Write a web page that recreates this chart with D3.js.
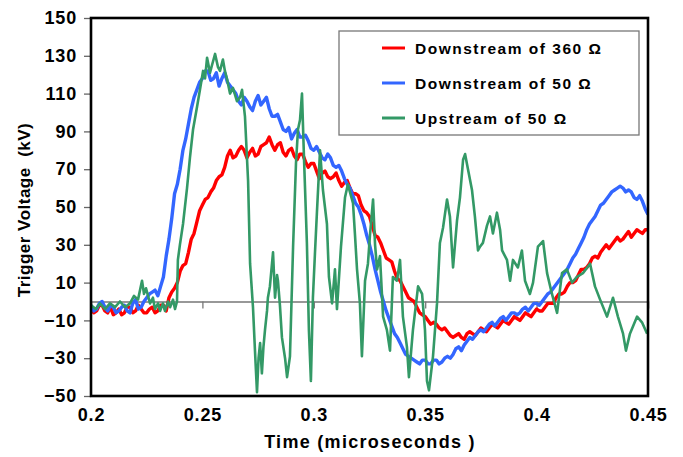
<!DOCTYPE html>
<html><head><meta charset="utf-8">
<script src="https://cdn.jsdelivr.net/npm/d3@7/dist/d3.min.js"></script>
<style>
html,body{margin:0;padding:0;background:#fff;}
text{font-family:Arial,"Liberation Sans",sans-serif;font-weight:bold;fill:#000;}
</style></head><body>
<svg id="c" width="683" height="457"></svg>
<script>
const xTicks = [0.2, 0.25, 0.3, 0.35, 0.4, 0.45];
const xTickLabels = ["0.2", "0.25", "0.3", "0.35", "0.4", "0.45"];
const yTicks = [-50, -30, -10, 10, 30, 50, 70, 90, 110, 130, 150];
const seriesNames = ["Downstream of 360 \u03A9", "Downstream of 50 \u03A9", "Upstream of 50 \u03A9"];
const seriesColors = ["#ff0000", "#3366ff", "#339966"];

const tGrid = [0.2000,0.2025,0.2050,0.2075,0.2100,0.2125,0.2150,0.2175,0.2200,0.2225,
0.2250,0.2275,0.2300,0.2325,0.2350,0.2375,0.2400,0.2425,0.2450,0.2475,
0.2500,0.2525,0.2550,0.2575,0.2600,0.2625,0.2650,0.2675,0.2700,0.2725,
0.2750,0.2775,0.2800,0.2825,0.2850,0.2875,0.2900,0.2925,0.2950,0.2975,
0.3000,0.3025,0.3050,0.3075,0.3100,0.3125,0.3150,0.3175,0.3200,0.3225,
0.3250,0.3275,0.3300,0.3325,0.3350,0.3375,0.3400,0.3425,0.3450,0.3475,
0.3500,0.3525,0.3550,0.3575,0.3600,0.3625,0.3650,0.3675,0.3700,0.3725,
0.3750,0.3775,0.3800,0.3825,0.3850,0.3875,0.3900,0.3925,0.3950,0.3975,
0.4000,0.4025,0.4050,0.4075,0.4100,0.4125,0.4150,0.4175,0.4200,0.4225,
0.4250,0.4275,0.4300,0.4325,0.4350,0.4375,0.4400,0.4425,0.4450,0.4475,0.4500];

// Downstream of 360 ohm: samples on tGrid, and in-between samples
const red360 = [-3,-5,-2,-6,-7,-4,-6,-3,-5,-4,
-6,-3,-5,-2,2,7,16,20,33,42,
51,55,60,66,71,80,77,82,76,81,
78,83,87,80,84,77,81,75,78,71,
73,65,69,65,68,61,64,57,56,48,
45,35,31,23,21,12,8,2,0,-6,
-8,-12,-12,-15,-16,-19,-17,-20,-16,-18,
-14,-16,-12,-14,-10,-12,-8,-10,-6,-8,
-4,-5,-1,-1,4,5,10,11,17,18,
23,23,28,28,32,32,35,34,38,36,38];
const red360Mid = [-6,-2,-5,-3,-6,-7,-3,-6,-2,-6,
-4,-6,-2,-5,5,10,19,26,36,48,
54,58,64,67,77,76,80,80,79,77,
82,84,83,83,79,80,77,78,74,73,
69,68,66,66,64,63,60,57,51,47,
40,34,27,22,16,11,5,1,-3,-7,
-10,-11,-14,-14,-18,-18,-19,-17,-17,-16,
-15,-14,-13,-12,-11,-10,-9,-8,-7,-6,
-5,-3,-1,2,4,8,10,14,17,20,
24,26,30,30,34,33,37,36,37,38];

// Downstream of 50 ohm
const blue50 = [-2,-4,0,-5,-3,-5,-2,-6,1,-3,
2,5,3,13,33,57,70,86,102,112,
118,122,118,114,121,114,110,104,106,101,
109,106,102,98,95,90,86,91,87,85,
80,79,75,76,71,69,62,56,50,41,
30,17,5,-5,-13,-19,-25,-29,-31,-33,
-31,-33,-31,-32,-29,-28,-24,-23,-19,-18,
-15,-14,-11,-11,-8,-8,-6,-6,-3,-3,
-1,0,4,7,11,15,20,25,31,38,
43,48,52,56,59,61,58,58,54,53,46];
const blue50Mid = [-5,-1,-3,-2,-6,-3,-5,-1,-4,0,
4,6,8,24,44,62,80,94,108,116,
122,117,121,118,116,112,106,108,103,106,
104,108,98,99,91,92,89,87,88,81,
82,76,78,72,72,65,60,52,46,35,
24,11,0,-9,-17,-22,-28,-30,-32,-31,
-33,-31,-33,-30,-30,-25,-26,-21,-20,-16,
-16,-12,-13,-9,-10,-6,-7,-4,-5,-1,
-2,2,5,9,13,17,23,28,34,41,
45,51,54,58,60,60,59,55,56,49];

// Upstream of 50 ohm
const greenT = [0.2000,0.2022,0.2040,0.2063,0.2085,0.2108,0.2130,0.2153,0.2175,0.2193,
0.2211,0.2229,0.2238,0.2247,0.2265,0.2278,0.2287,0.2301,0.2310,0.2323,
0.2332,0.2346,0.2355,0.2368,0.2377,0.2386,0.2390,0.2399,0.2413,0.2431,
0.2444,0.2458,0.2476,0.2489,0.2503,0.2512,0.2521,0.2534,0.2543,0.2557,
0.2570,0.2579,0.2592,0.2601,0.2610,0.2624,0.2637,0.2655,0.2669,0.2678,
0.2691,0.2705,0.2714,0.2727,0.2736,0.2745,0.2752,0.2759,0.2767,0.2774,
0.2781,0.2790,0.2794,0.2803,0.2817,0.2826,0.2835,0.2839,0.2848,0.2857,
0.2871,0.2880,0.2893,0.2907,0.2920,0.2929,0.2938,0.2947,0.2956,0.2969,
0.2978,0.2987,0.2996,0.3005,0.3014,0.3028,0.3041,0.3050,0.3059,0.3068,
0.3082,0.3095,0.3104,0.3122,0.3140,0.3153,0.3162,0.3176,0.3185,0.3194,
0.3207,0.3216,0.3230,0.3243,0.3252,0.3266,0.3275,0.3284,0.3297,0.3311,
0.3328,0.3342,0.3355,0.3373,0.3387,0.3400,0.3418,0.3427,0.3445,0.3468,
0.3486,0.3499,0.3508,0.3517,0.3535,0.3553,0.3566,0.3580,0.3598,0.3611,
0.3625,0.3643,0.3656,0.3670,0.3679,0.3692,0.3710,0.3723,0.3737,0.3746,
0.3759,0.3777,0.3791,0.3804,0.3822,0.3836,0.3845,0.3867,0.3881,0.3894,
0.3916,0.3934,0.3948,0.3970,0.3984,0.4006,0.4029,0.4047,0.4069,0.4092,
0.4114,0.4136,0.4159,0.4181,0.4208,0.4240,0.4262,0.4285,0.4316,0.4343,
0.4365,0.4388,0.4401,0.4419,0.4451,0.4473,0.4496];
const greenV = [-2,-4,-1,-4,-1,-3,0,-3,-1,3,
1,11,4,7,-1,2,-4,-1,-5,-1,
-5,0,-3,1,-4,0,22,30,41,60,
76,91,103,112,122,118,129,121,125,131,
124,122,128,122,118,110,113,106,108,112,
98,64,20,-3,-26,-48,-30,-22,-38,-24,
-15,-5,2,8,26,2,14,11,-2,-19,
-30,-40,-29,29,73,91,96,110,76,31,
-15,-42,2,25,47,80,59,50,41,13,
-1,17,-4,29,55,62,58,52,35,17,
-1,-29,11,20,35,54,30,17,24,-8,
-15,-26,13,11,22,-8,-24,-40,-15,8,
4,-15,-42,-47,-29,-1,31,39,54,45,
18,43,55,75,78,70,59,45,27,29,
31,40,45,36,47,38,27,22,11,22,
18,27,11,4,10,29,32,15,4,-6,
15,17,10,13,15,20,8,1,-8,2,
-8,-17,-26,-17,-8,-11,-17];

const svg = d3.select("#c");
const L = 91, R = 648, T = 18, B = 396;
const x = d3.scaleLinear().domain([0.2, 0.45]).range([L, R]);
const y = d3.scaleLinear().domain([-50, 150]).range([B, T]);

svg.append("defs").append("clipPath").attr("id","clip")
  .append("rect").attr("x",L).attr("y",T).attr("width",R-L).attr("height",B-T);

// zero line with ticks
const zeroAxis = svg.append("g").attr("transform",`translate(0,${y(0)})`)
  .call(d3.axisBottom(x).tickValues(xTicks).tickSize(7).tickFormat(""));
zeroAxis.select(".domain").attr("stroke","#777").attr("stroke-width",1.3);
zeroAxis.selectAll(".tick line").attr("stroke","#777").attr("stroke-width",1.3);

function interleave(main, mid){
  const out = [];
  for (let i = 0; i < tGrid.length; i++) {
    out.push([tGrid[i], main[i]]);
    if (i < mid.length) out.push([(tGrid[i] + tGrid[i+1]) / 2, mid[i]]);
  }
  return out;
}

const line = d3.line().x(d => x(d[0])).y(d => y(d[1]));
const g = svg.append("g").attr("clip-path","url(#clip)");
const redData = interleave(red360, red360Mid);
const blueData = interleave(blue50, blue50Mid);
const greenData = greenT.map((t,i)=>[t, greenV[i]]);
g.append("path").datum(redData).attr("d",line).attr("fill","none")
  .attr("stroke",seriesColors[0]).attr("stroke-width",3.4).attr("stroke-linejoin","round");
g.append("path").datum(blueData).attr("d",line).attr("fill","none")
  .attr("stroke",seriesColors[1]).attr("stroke-width",3.4).attr("stroke-linejoin","round");
g.append("path").datum(greenData).attr("d",line).attr("fill","none")
  .attr("stroke",seriesColors[2]).attr("stroke-width",2.6).attr("stroke-linejoin","round");

// Y axis
const yAxis = svg.append("g").attr("transform",`translate(${L},0)`)
  .call(d3.axisLeft(y).tickValues(yTicks).tickSize(7).tickPadding(7).tickFormat(d3.format("d")));
yAxis.select(".domain").remove();
yAxis.selectAll(".tick line").attr("stroke","#666").attr("stroke-width",1.3);
yAxis.selectAll(".tick text").attr("font-size",18).attr("letter-spacing","0.8px")
  .attr("font-family","Arial, 'Liberation Sans', sans-serif").attr("font-weight","bold").attr("fill","#000");

// X axis labels at bottom
const xAxis = svg.append("g").attr("transform",`translate(0,${B})`)
  .call(d3.axisBottom(x).tickValues(xTicks).tickSize(0).tickPadding(12)
    .tickFormat((d,i)=>xTickLabels[i]));
xAxis.select(".domain").remove();
xAxis.selectAll(".tick text").attr("font-size",18).attr("letter-spacing","0.8px")
  .attr("font-family","Arial, 'Liberation Sans', sans-serif").attr("font-weight","bold").attr("fill","#000");

// frame
svg.append("rect").attr("x",L).attr("y",T).attr("width",R-L).attr("height",B-T)
  .attr("fill","none").attr("stroke","#000").attr("stroke-width",2.6);

// titles
svg.append("text").attr("x",370).attr("y",448).attr("text-anchor","middle")
  .attr("font-size",18).attr("letter-spacing","1.3px").text("Time (microseconds )");
svg.append("text").attr("transform","translate(30,210) rotate(-90)").attr("text-anchor","middle")
  .attr("font-size",17).attr("letter-spacing","0.5px")
  .style("white-space","pre").text("Trigger Voltage  (kV)");

// legend
const lg = svg.append("g");
lg.append("rect").attr("x",339).attr("y",31).attr("width",300).attr("height",104)
  .attr("fill","#fff").attr("stroke","#777").attr("stroke-width",1.3);
const rowsY = [48, 83, 118];
seriesNames.forEach((n,i)=>{
  lg.append("line").attr("x1",382).attr("x2",405).attr("y1",rowsY[i]).attr("y2",rowsY[i])
    .attr("stroke",seriesColors[i]).attr("stroke-width",3);
  lg.append("text").attr("x",415).attr("y",rowsY[i]+6).attr("font-size",15.5)
    .attr("letter-spacing","1.5px").text(n);
});
</script></body></html>
